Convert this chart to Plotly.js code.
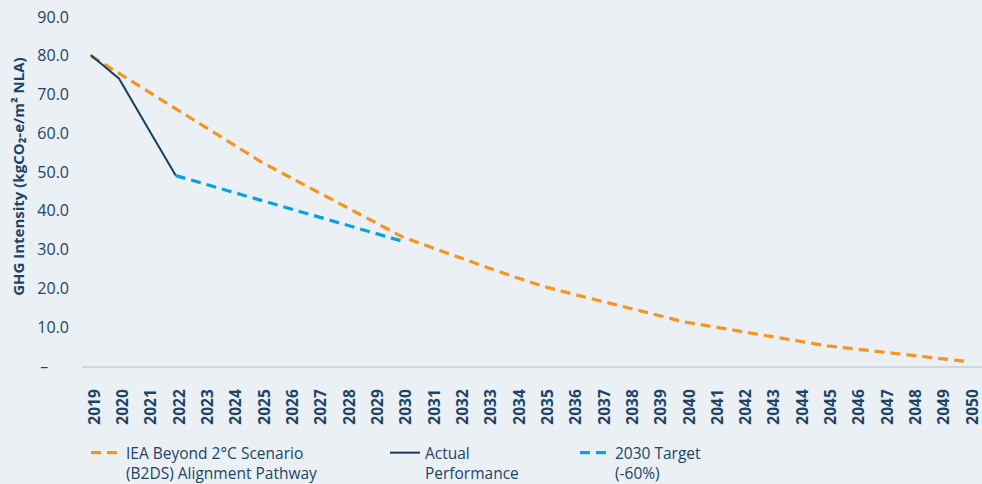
<!DOCTYPE html>
<html>
<head>
<meta charset="utf-8">
<script src="https://cdn.plot.ly/plotly-3.0.1.min.js"></script>
<style>html,body{margin:0;padding:0;background:#eaf0f3;}#chart{width:982px;height:484px;}</style>
</head>
<body>
<div id="chart"></div>
<script>
const years = [2019,2020,2021,2022,2023,2024,2025,2026,2027,2028,2029,2030,2031,2032,2033,2034,2035,2036,2037,2038,2039,2040,2041,2042,2043,2044,2045,2046,2047,2048,2049,2050];
const pathway = [80.0,75.4,70.9,66.4,61.8,57.3,52.7,48.8,45.0,41.1,37.2,33.3,30.6,28.0,25.4,22.9,20.5,18.6,16.8,15.0,13.1,11.3,10.1,8.9,7.6,6.4,5.2,4.4,3.6,2.8,1.9,1.1];
const actualYears = [2019,2020,2021,2022];
const actual = [80.2,74.1,61.6,49.1];
const targetYears = [2022,2030];
const target = [49.1,32.2];
const yTickVals = [0,10,20,30,40,50,60,70,80,90];
const yTickText = ['–\u00a0\u00a0\u00a0\u00a0\u00a0','10.0','20.0','30.0','40.0','50.0','60.0','70.0','80.0','90.0'];
const names = ['IEA Beyond 2°C Scenario<br>(B2DS) Alignment Pathway','Actual<br>Performance','2030 Target<br>(-60%)'];

const txt = '#1d4468';
const fontFam = '"Open Sans", "Noto Sans", sans-serif';

const traces = [
  {x: years, y: pathway, name: names[0], type: 'scatter', mode: 'lines', legend: 'legend',
   line: {color: '#f7941d', width: 3.2, dash: '10px,6px'}},
  {x: actualYears, y: actual, name: names[1], type: 'scatter', mode: 'lines', legend: 'legend2',
   line: {color: '#183f5e', width: 2}},
  {x: targetYears, y: target, name: names[2], type: 'scatter', mode: 'lines', legend: 'legend3',
   line: {color: '#0aa1e2', width: 3.2, dash: '10px,6px'}}
];

const legendBase = {orientation: 'h', yanchor: 'top', xanchor: 'left', xref: 'container', yref: 'container',
  y: 0.099, bgcolor: 'rgba(0,0,0,0)',
  font: {family: fontFam, size: 15.5, color: txt}, valign: 'top', tracegroupgap: 0};

const layout = {
  width: 982, height: 484,
  paper_bgcolor: '#eaf0f3', plot_bgcolor: '#eaf0f3',
  margin: {l: 82, r: 0, t: 17, b: 117.5, autoexpand: false},
  font: {family: fontFam, color: txt},
  showlegend: true,
  xaxis: {
    type: 'linear', range: [2018.69, 2050.47], automargin: false,
    tickmode: 'array', tickvals: years, ticktext: years.map(String),
    tickangle: -90, ticks: '', showgrid: false, zeroline: false,
    showline: true, linecolor: '#c8d9e0', linewidth: 2,
    tickfont: {family: fontFam, size: 15.5, color: txt, weight: 'bold'},
    ticklabelstandoff: 15, ticklabelshift: 4, ticklabeloverflow: 'allow'
  },
  yaxis: {
    range: [0, 90], tickmode: 'array', tickvals: yTickVals, ticktext: yTickText, automargin: false,
    ticks: '', showgrid: false, zeroline: false, showline: false,
    tickfont: {family: fontFam, size: 16, color: txt}, ticklabelstandoff: 12
  },
  annotations: [{
    text: 'GHG Intensity (kgCO₂-e/m² NLA)', textangle: -90, showarrow: false,
    xref: 'paper', yref: 'paper', x: -0.0711, y: 0.542, xanchor: 'center', yanchor: 'middle',
    font: {family: fontFam, size: 15, color: txt, weight: 'bold'}
  }],
  legend: Object.assign({}, legendBase, {x: 0.0876}),
  legend2: Object.assign({}, legendBase, {x: 0.392}),
  legend3: Object.assign({}, legendBase, {x: 0.5855})
};

Plotly.newPlot('chart', traces, layout, {displayModeBar: false, staticPlot: true});
</script>
</body>
</html>
